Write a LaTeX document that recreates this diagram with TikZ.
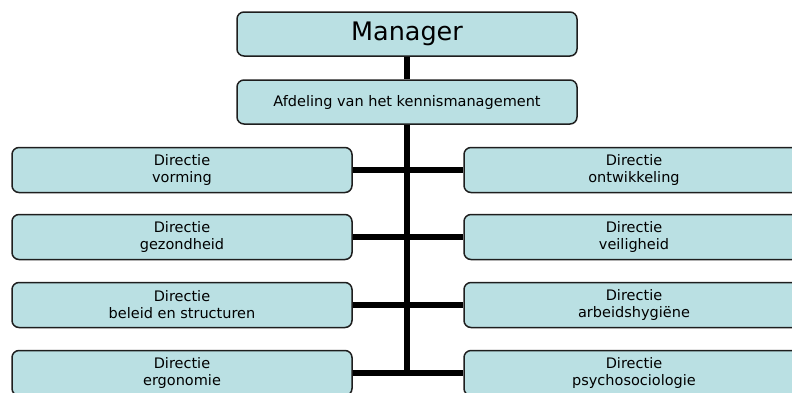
\documentclass[tikz,border=0pt]{standalone}
\usepackage{fontspec}
\setmainfont{DejaVu Sans}
\definecolor{boxfill}{HTML}{BAE0E3}
\definecolor{boxline}{HTML}{1E1E1E}
\begin{document}
\begin{tikzpicture}[x=1pt,y=-1pt,
  orgbox/.style={draw=boxline,fill=boxfill,line width=1.5pt,rounded corners=7pt,
    minimum width=340pt,inner sep=0pt,align=center,text=black},
  topbox/.style={orgbox,minimum height=44pt},
  dirbox/.style={orgbox,minimum height=45pt,font=\fontsize{14.5}{17}\selectfont},
  link/.style={line width=6pt,black}]
\useasboundingbox (0,0) rectangle (792,392);
\begin{scope}
\clip (0,0) rectangle (792,392);
\node[topbox,font=\fontsize{25.5}{30}\selectfont] (m) at (407,34) {Manager};
\node[topbox,font=\fontsize{14.5}{17}\selectfont] (a) at (407,102) {Afdeling van het kennismanagement};
\node[dirbox] (l1) at (182,170) {Directie\\vorming};
\node[dirbox] (l2) at (182,237) {Directie\\gezondheid};
\node[dirbox] (l3) at (182,305) {Directie\\beleid en structuren};
\node[dirbox] (l4) at (182,373) {Directie\\ergonomie};
\node[dirbox] (r1) at (634,170) {Directie\\ontwikkeling};
\node[dirbox] (r2) at (634,237) {Directie\\veiligheid};
\node[dirbox] (r3) at (634,305) {Directie\\arbeidshygiëne};
\node[dirbox] (r4) at (634,373) {Directie\\psychosociologie};
\coordinate (bottom) at (a.south |- l4.east);
\draw[link] (m.south) -- (a.north);
\draw[link] (a.south) -- ([yshift=3pt]bottom);
\draw[link] (l1.east) -- (r1.west);
\draw[link] (l2.east) -- (r2.west);
\draw[link] (l3.east) -- (r3.west);
\draw[link] (l4.east) -- (r4.west);
\end{scope}
\end{tikzpicture}
\end{document}
